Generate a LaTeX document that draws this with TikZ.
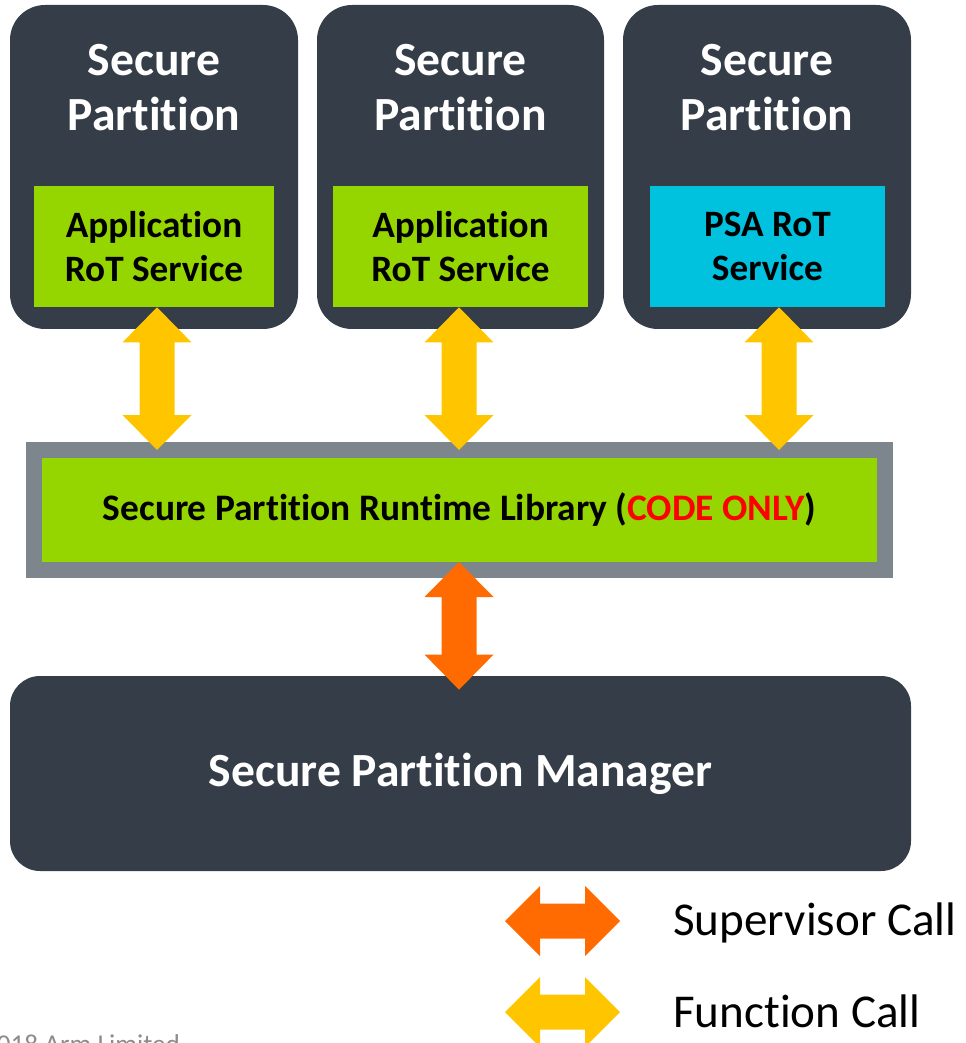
\documentclass[tikz,border=0pt]{standalone}
\usepackage{fontspec}
\setmainfont{Carlito}[Ligatures=NoCommon]
\usetikzlibrary{calc}
\definecolor{armdark}{HTML}{353E48}
\definecolor{armgreen}{HTML}{95D600}
\definecolor{armcyan}{HTML}{00C1DE}
\definecolor{armgray}{HTML}{7D868C}
\definecolor{fcall}{HTML}{FFC600}
\definecolor{svcall}{HTML}{FF6B00}
\newdimen\px \px=0.02cm
\def\vfatarrow[#1](#2)(#3){\fill[#1] (#2) -- ++(34.5,35) -- ++(-17,0) -- ($(#3)+(17.5,-35)$) -- ++(17,0) -- (#3) -- ++(-34.5,-35) -- ++(17,0) -- ($(#2)+(-17.5,35)$) -- ++(-17,0) -- cycle;}
\def\hfatarrow[#1](#2)(#3){\fill[#1] (#2) -- ++(35,-35) -- ++(0,17.5) -- ($(#3)+(-35,-17.5)$) -- ++(0,-17.5) -- (#3) -- ++(-35,35) -- ++(0,-17.5) -- ($(#2)+(35,17.5)$) -- ++(0,17.5) -- cycle;}
\tikzset{
  partition/.style={fill=armdark, rounded corners=0.7cm, minimum width=288\px, minimum height=324\px, inner sep=0pt},
  service/.style={minimum height=121\px, inner sep=0pt, align=center, font=\fontsize{21.2}{25.5}\selectfont\bfseries},
  bigtext/.style={text=white, align=center, inner sep=0pt, font=\fontsize{27.1}{31}\selectfont\bfseries}
}

\begin{document}
\begin{tikzpicture}[x=0.02cm, y=-0.02cm]
			%%%%% FRAME %%%%%
			\useasboundingbox (0, 0) rectangle (965, 1043);
			
			%%%%% PARTITIONS %%%%%
			\node[partition] (sp1) at (154, 167) {};
			\node[partition, minimum width=287\px] (sp2) at (460.5, 167) {};
			\node[partition] (sp3) at (767, 167) {};
			
			\node[bigtext] (sp1title) at (154, 87.5) {Secure\\Partition};
			\node[bigtext] (sp2title) at (460.5, 87.5) {Secure\\Partition};
			\node[bigtext] (sp3title) at (767, 87.5) {Secure\\Partition};
			
			\node[service, fill=armgreen, minimum width=240\px] (app1) at (154, 246.5) {Application\\RoT Service};
			\node[service, fill=armgreen, minimum width=255\px] (app2) at (460.5, 246.5) {Application\\RoT Service};
			\node[service, fill=armcyan, minimum width=235\px] (psa) at (767.5, 246.5) {PSA RoT\\Service};
			
			%%%%% LIBRARY %%%%%
			\node[draw=armgray, line width=16\px, fill=armgreen, minimum width=851\px, minimum height=120\px, inner sep=0pt,
			      font=\fontsize{21.3}{25.5}\selectfont\bfseries] (lib) at (459.5, 510)
			      {Secure Partition Runtime Library (\textcolor{red}{CODE ONLY})};
			
			%%%%% MANAGER %%%%%
			\node[fill=armdark, rounded corners=0.6cm, minimum width=901\px, minimum height=195\px, inner sep=0pt] (spm) at (460.5, 773.5) {};
			\node[bigtext] (spmtitle) at (spm.center) {Secure Partition Manager};
			
			%%%%% CALLS %%%%%
			\coordinate (f1top) at ($(app1.south)+(3,0)$);
			\coordinate (f2top) at ($(app2.south)+(-1.5,0)$);
			\coordinate (f3top) at ($(psa.south)+(11.5,0)$);
			\coordinate (f1bot) at ($(f1top |- lib.north)+(0,8)$);
			\coordinate (f2bot) at ($(f2top |- lib.north)+(0,8)$);
			\coordinate (f3bot) at ($(f3top |- lib.north)+(0,8)$);
			\vfatarrow[fcall](f1top)(f1bot);
			\vfatarrow[fcall](f2top)(f2bot);
			\vfatarrow[fcall](f3top)(f3bot);
			
			\coordinate (s1top) at ($(lib.south)+(-0.5,-16)$);
			\coordinate (s1bot) at ($(s1top |- spm.north)+(0,14)$);
			\vfatarrow[svcall](s1top)(s1bot);
			
			%%%%% LEGEND %%%%%
			\coordinate (svcL) at (505, 921);
			\coordinate (svcR) at (620, 921);
			\coordinate (fncL) at (505, 1012);
			\coordinate (fncR) at (620, 1012);
			\hfatarrow[svcall](svcL)(svcR);
			\hfatarrow[fcall](fncL)(fncR);
			\node[anchor=base west, inner sep=0pt, font=\fontsize{26.8}{31}\selectfont] (svclabel) at (673, 935) {Supervisor Call};
			\node[anchor=base west, inner sep=0pt, font=\fontsize{26.8}{31}\selectfont] (fnclabel) at (673, 1027) {Function Call};
			
			\node[anchor=base west, inner sep=0pt, text=black!45, font=\fontsize{15.5}{18}\selectfont] (copy) at (-40, 1053) {\textcopyright2018 Arm Limited};
			
			%%%%% END %%%%%
		\end{tikzpicture}
\end{document}
